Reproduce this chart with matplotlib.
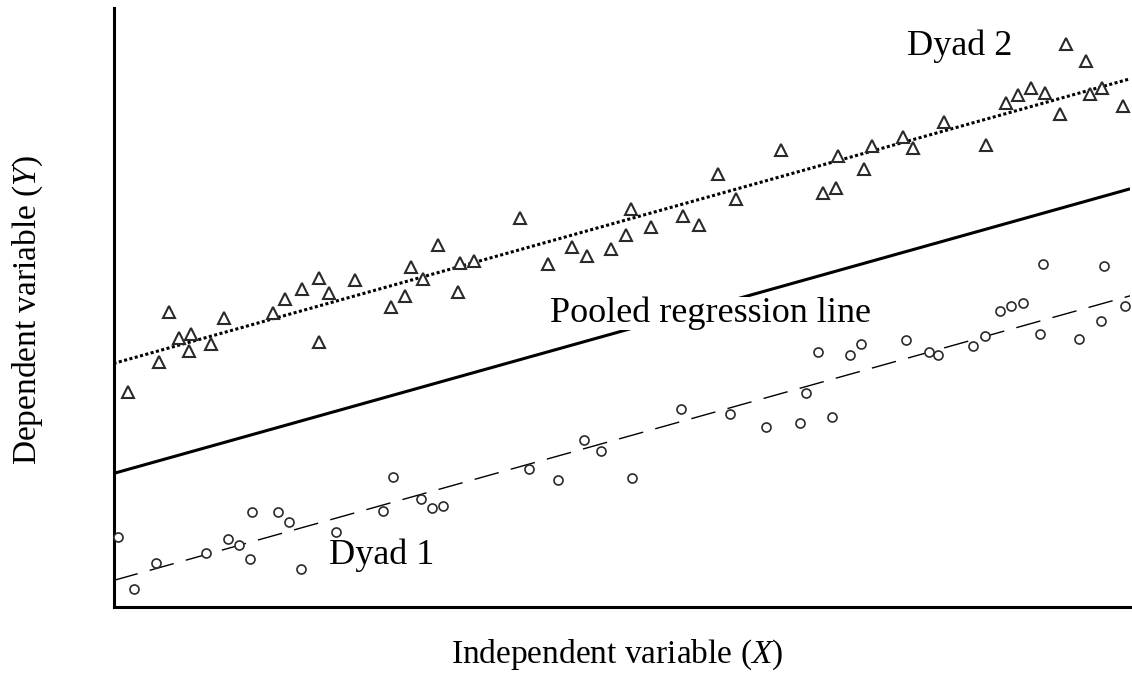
import matplotlib
matplotlib.use("Agg")
import matplotlib.pyplot as plt
import numpy as np

plt.rcParams['font.family'] = ['Liberation Serif', 'DejaVu Serif']
plt.rcParams['mathtext.fontset'] = 'custom'
plt.rcParams['mathtext.rm'] = 'Liberation Serif'
plt.rcParams['mathtext.it'] = 'Liberation Serif:italic'

# Dyad 2 (triangles)
dyad2_x = [1.3, 4.4, 5.4, 6.4, 7.6, 7.4, 9.6, 10.9, 15.8, 17.0, 18.7, 20.4, 20.4, 21.4,
           24.0, 27.6, 29.0, 29.6, 30.8, 32.3, 34.3, 34.5, 35.9, 40.5, 43.3, 45.7, 47.2,
           49.6, 51.1, 51.6, 53.6, 56.8, 58.4, 60.3, 62.1, 66.6, 70.8, 72.1, 72.3, 74.9,
           75.7, 78.8, 79.8, 82.9, 87.1, 89.1, 90.3, 91.6, 93.0, 94.5, 95.1, 97.1, 97.5,
           98.7, 100.8]
dyad2_y = [21.3, 24.3, 29.3, 26.7, 27.1, 25.4, 26.1, 28.7, 29.2, 30.6, 31.6, 32.7, 26.3, 31.2,
           32.5, 29.8, 30.9, 33.8, 32.6, 36.0, 31.3, 34.2, 34.4, 38.7, 34.1, 35.8, 34.9,
           35.6, 37.0, 39.6, 37.8, 38.9, 38.0, 43.1, 40.6, 45.5, 41.2, 41.7, 44.9, 43.6,
           45.9, 46.8, 45.7, 48.3, 46.0, 50.2, 51.0, 51.7, 51.2, 49.1, 56.1, 54.4, 51.1,
           51.7, 49.9]

# Dyad 1 (circles)
dyad1_x = [0.3, 1.9, 4.1, 9.1, 11.3, 12.4, 13.5, 13.7, 16.3, 17.4, 18.6, 22.1, 26.8, 27.8,
           30.6, 31.7, 32.8, 41.4, 44.3, 46.9, 48.6, 51.7, 56.6, 61.5, 65.1, 68.5, 69.1,
           70.3, 71.7, 73.5, 74.6, 79.1, 81.4, 82.3, 85.8, 87.0, 88.5, 89.6, 90.8, 92.5,
           92.8, 96.4, 98.6, 98.9, 101.0]
dyad1_y = [6.8, 1.6, 4.2, 5.2, 6.6, 6.0, 4.6, 9.3, 9.3, 8.3, 3.6, 7.3, 9.4, 12.8,
           10.6, 9.7, 9.9, 13.6, 12.5, 16.5, 15.4, 12.7, 19.6, 19.1, 17.8, 18.2, 21.2,
           25.3, 18.8, 25.0, 26.1, 26.5, 25.3, 25.0, 25.9, 26.9, 29.4, 29.9, 30.2, 27.1,
           34.1, 26.6, 28.4, 33.9, 29.9]

# Regression lines (intercept, slope)
dyad2_line = (24.2, 0.28)
pooled_line = (13.2, 0.28)
dyad1_line = (2.5, 0.28)

xlim = (-0.15, 101.5)
ylim = (-0.2, 59.7)

fig = plt.figure(figsize=(11.32, 6.75), dpi=100)
ax = fig.add_axes([0.1003, 0.1007, 0.898, 0.8874])
ax.set_xlim(*xlim)
ax.set_ylim(*ylim)

xs = np.array(xlim)
ax.plot(xs, dyad2_line[0] + dyad2_line[1] * xs, color='black', lw=2.2,
        dashes=(1.0, 0.8), dash_capstyle='butt', zorder=2)
ax.plot(xs, pooled_line[0] + pooled_line[1] * xs, color='black', lw=2.2,
        solid_capstyle='butt', zorder=2)
ax.plot(xs, dyad1_line[0] + dyad1_line[1] * xs, color='black', lw=1.0,
        dashes=(18, 9), zorder=2)

ax.plot(dyad2_x, dyad2_y, linestyle='none', marker='^', ms=8.5, mfc='white',
        mec='#2a2a2a', mew=1.5, zorder=3, clip_on=False)
ax.plot(dyad1_x, dyad1_y, linestyle='none', marker='o', ms=6.5, mfc='white',
        mec='#2a2a2a', mew=1.2, zorder=3, clip_on=False)

ax.text(59.5, 28.3, 'Pooled regression line', fontsize=26, ha='center',
        va='baseline', zorder=4,
        bbox=dict(facecolor='white', edgecolor='none', pad=0))
ax.text(84.5, 55.0, 'Dyad 2', fontsize=26, ha='center', va='baseline', zorder=4)
ax.text(26.7, 4.1, 'Dyad 1', fontsize=26, ha='center', va='baseline', zorder=4)

for s in ['top', 'right']:
    ax.spines[s].set_visible(False)
for s in ['left', 'bottom']:
    ax.spines[s].set_linewidth(2.2)
    ax.spines[s].set_color('black')
ax.set_xticks([])
ax.set_yticks([])

fig.text(617 / 1132, 1 - 663 / 675, 'Independent variable ($X$)', fontsize=24,
         ha='center', va='baseline')
fig.text(28 / 1132, 1 - 310 / 675, 'Dependent variable ($Y$)', fontsize=24,
         ha='center', va='center', rotation=90)

fig.savefig('out.png', dpi=100, facecolor='white')
